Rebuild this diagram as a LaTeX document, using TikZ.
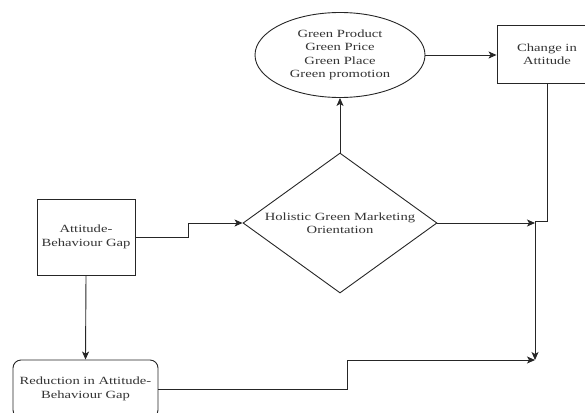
\documentclass[tikz,border=0pt]{standalone}
\usepackage{fontspec}
\setmainfont{Liberation Serif}[FakeStretch=1.33]
\usetikzlibrary{shapes.geometric,arrows.meta}
\begin{document}
\begin{tikzpicture}[x=1pt,y=-1pt,
  every node/.style={font=\fontsize{11}{13.5}\selectfont, text=black!80, align=center},
  box/.style={draw=black!85, rectangle, line width=0.9pt, inner sep=0pt},
  conn/.style={draw=black!85, line width=0.9pt, -{Stealth[length=8pt,width=7pt,inset=2pt]}}]
\useasboundingbox (0,0) rectangle (585,412);
\node[box, ellipse, minimum width=170pt, minimum height=85pt] (ell) at (340,55) {Green Product\\Green Price\\Green Place\\Green promotion};
\node[box, minimum width=100pt, minimum height=58pt] (chg) at (547,54) {Change in\\Attitude};
\node[box, diamond, minimum width=194pt, minimum height=140pt] (hgm) at (340,223) {};
\node (hgmt) at (hgm.center) {Holistic Green Marketing\\Orientation};
\node[box, minimum width=98pt, minimum height=76pt] (att) at (86,237) {Attitude-\\Behaviour Gap};
\node[box, rounded corners=8pt, minimum width=145pt, minimum height=58pt] (red) at (85.5,389) {Reduction in Attitude-\\Behaviour Gap};
\coordinate (j1) at (535,223);
\coordinate (j2) at (535,360);
\coordinate (k) at (547,221);
\coordinate (m) at (347,360);
\draw[conn] (ell.east) -- (ell.east -| chg.west);
\draw[conn] (hgm.north) -- (ell.south);
\draw[conn] (att.east) -- ++(53,0) |- (hgm.west);
\draw[conn] (att.south) -- (red.north);
\draw[conn] (hgm.east) -- (j1);
\draw[conn] (chg.south) -- (k) -| (j2);
\draw[conn] (red.east) -| (m) -- (j2);
\end{tikzpicture}
\end{document}
